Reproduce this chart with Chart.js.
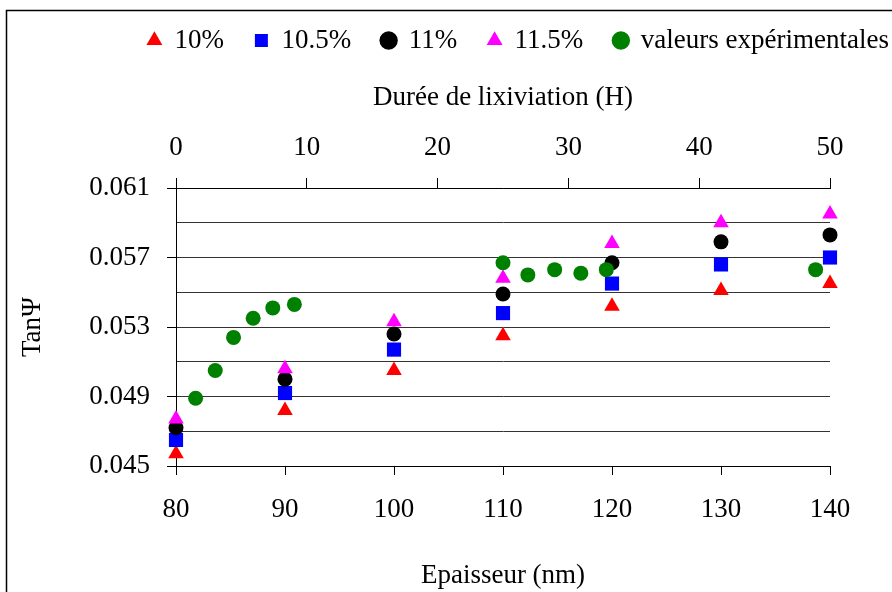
<!DOCTYPE html>
<html>
<head>
<meta charset="utf-8">
<script src="https://cdn.jsdelivr.net/npm/chart.js@4"></script>
<style>
  html, body { margin: 0; padding: 0; background: #fff; }
  #wrap { width: 892px; height: 592px; }
</style>
</head>
<body>
<div id="wrap"><canvas id="c" width="892" height="592"></canvas></div>
<script>
// Epaisseur (nm) categories for simulated series
const thickness = [80, 90, 100, 110, 120, 130, 140];
// Simulated TanΨ series
const s10   = [0.0457, 0.0482, 0.0505, 0.0525, 0.0542, 0.0551, 0.0555];
const s105  = [0.0465, 0.0492, 0.0517, 0.0538, 0.0555, 0.0566, 0.0570];
const s11   = [0.0472, 0.0500, 0.0526, 0.0549, 0.0567, 0.0579, 0.0583];
const s115  = [0.0477, 0.0506, 0.0533, 0.0558, 0.0578, 0.0590, 0.0595];
// Experimental values vs leaching duration (H)
const expHours  = [1.5, 3.0, 4.4, 5.9, 7.4, 9.05, 25.0, 26.9, 28.95, 30.95, 32.9, 48.9];
const expValues = [0.0489, 0.0505, 0.0524, 0.0535, 0.0541, 0.0543, 0.0567, 0.0560, 0.0563, 0.0561, 0.0563, 0.0563];
// Labels
const seriesNames = ['10%', '10.5%', '11%', '11.5%', 'valeurs expérimentales'];
const yTickLabels = ['0.045', '0.049', '0.053', '0.057', '0.061'];

const FONT = 'Liberation Serif, Times New Roman, serif';
const FS = 27;
const pts = (xs, ys) => xs.map((x, i) => ({x: x, y: ys[i]}));

const frame = {
  id: 'frame',
  afterLayout(chart) {
    const lg = chart.legend;
    if (lg) {
      lg.left += 28; lg.right += 28;
      lg.top -= 4; lg.bottom -= 4;
    }
  },
  beforeDraw(chart) {
    const ctx = chart.ctx;
    ctx.save();
    ctx.fillStyle = '#fff';
    ctx.fillRect(0, 0, chart.width, chart.height);
    ctx.strokeStyle = '#000';
    ctx.lineWidth = 1.5;
    ctx.strokeRect(6.5, 10.5, 1000, 1000);
    ctx.restore();
  }
};

new Chart(document.getElementById('c'), {
  type: 'scatter',
  data: {
    datasets: [
      {label: seriesNames[0], data: pts(thickness, s10), pointStyle: 'triangle', pointRadius: 9, backgroundColor: '#ff0000', borderColor: '#ff0000', borderWidth: 0, xAxisID: 'x', order: 5, clip: false},
      {label: seriesNames[1], data: pts(thickness, s105), pointStyle: 'rect', pointRadius: 10, backgroundColor: '#0000ff', borderColor: '#0000ff', borderWidth: 0, xAxisID: 'x', order: 4, clip: false},
      {label: seriesNames[2], data: pts(thickness, s11), pointStyle: 'circle', pointRadius: 7.5, backgroundColor: '#000000', borderColor: '#000000', borderWidth: 0, xAxisID: 'x', order: 3, clip: false},
      {label: seriesNames[3], data: pts(thickness, s115), pointStyle: 'triangle', pointRadius: 9, backgroundColor: '#ff00ff', borderColor: '#ff00ff', borderWidth: 0, xAxisID: 'x', order: 2, clip: false},
      {label: seriesNames[4], data: pts(expHours, expValues), pointStyle: 'circle', pointRadius: 7.5, backgroundColor: '#008000', borderColor: '#008000', borderWidth: 0, xAxisID: 'x2', order: 1, clip: false}
    ]
  },
  options: {
    responsive: false,
    animation: false,
    layout: {padding: 0},
    plugins: {
      tooltip: {enabled: false},
      legend: {
        display: true,
        position: 'top',
        align: 'end',
        labels: {
          usePointStyle: true,
          boxWidth: 13,
          boxHeight: 13,
          padding: 31,
          color: '#000',
          font: {family: FONT, size: FS},
          sort: (a, b) => a.datasetIndex - b.datasetIndex
        }
      }
    },
    scales: {
      x: {
        type: 'linear', position: 'bottom', min: 80, max: 140,
        ticks: {stepSize: 10, color: '#000', font: {family: FONT, size: FS}, padding: 19, maxRotation: 0, autoSkip: false},
        grid: {drawOnChartArea: false, drawTicks: true, tickLength: 9, color: '#000'},
        border: {display: true, color: '#000', width: 1},
        title: {display: true, text: 'Epaisseur (nm)', color: '#000', font: {family: FONT, size: FS}, padding: {top: 0, bottom: 0}},
        afterFit(s) { s.height = 126; }
      },
      x2: {
        type: 'linear', position: 'top', min: 0, max: 50,
        ticks: {stepSize: 10, color: '#000', font: {family: FONT, size: FS}, padding: 14, maxRotation: 0, autoSkip: false},
        grid: {drawOnChartArea: false, drawTicks: true, tickLength: 10, color: '#000'},
        border: {display: true, color: '#000', width: 1},
        title: {display: true, text: 'Durée de lixiviation (H)', color: '#000', font: {family: FONT, size: FS}, padding: {top: 14, bottom: 0}},
        afterFit(s) {
          const lh = (s.chart.legend && s.chart.legend.height) ? s.chart.legend.height : 68;
          s.height = 188 - lh;
        }
      },
      y: {
        type: 'linear', position: 'left', min: 0.045, max: 0.061,
        ticks: {
          stepSize: 0.002, color: '#000', font: {family: FONT, size: FS}, padding: 17, autoSkip: false,
          callback: (v) => {
            const k = Math.round((v - 0.045) / 0.002);
            return k % 2 === 0 ? yTickLabels[k / 2] : '';
          }
        },
        grid: {
          drawOnChartArea: true, drawTicks: true, tickLength: 9, color: '#333', lineWidth: 1,
          tickColor: (ctx) => (ctx.index % 2 === 0 ? '#000' : 'rgba(0,0,0,0)')
        },
        border: {display: true, color: '#000', width: 1},
        title: {display: true, text: 'TanΨ', color: '#000', font: {family: FONT, size: FS}, padding: {top: 17, bottom: 0}},
        afterFit(s) { s.width = 176; }
      },
      y2: {
        type: 'linear', position: 'right', min: 0.045, max: 0.061,
        display: true,
        ticks: {display: false},
        grid: {display: false, drawTicks: false},
        border: {display: false},
        afterFit(s) { s.width = 62; }
      }
    }
  },
  plugins: [frame]
});
</script>
</body>
</html>
